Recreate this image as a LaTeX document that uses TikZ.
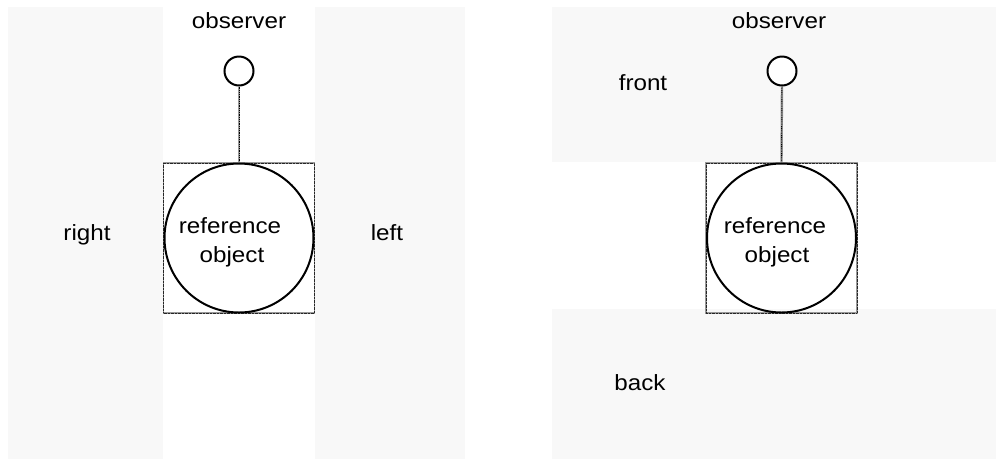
\documentclass[tikz,border=0pt]{standalone}
\usepackage{fontspec}
\setmainfont{Liberation Sans}[FakeStretch=1.1]
\definecolor{bggray}{RGB}{248,248,248}
\begin{document}
\begin{tikzpicture}[x=1pt,y=-1pt,
  txt/.style={font=\fontsize{22}{29}\selectfont, inner sep=0pt, anchor=base},
  obscirc/.style={circle, draw=black, line width=2pt, fill=white, minimum size=29pt, inner sep=0pt},
  refcirc/.style={circle, draw=black, line width=2pt, minimum size=149pt, inner sep=0pt},
  hatchbox/.style={draw=black!40, line width=1.8pt, minimum width=151pt, minimum height=150pt, inner sep=0pt,
    postaction={draw=black!85, line width=0.8pt, dash pattern=on 0.7pt off 0.7pt}},
  hatchline/.style={draw=black!40, line width=2.4pt,
    postaction={draw=black, line width=1pt, dash pattern=on 0.9pt off 0.9pt}}
]
\useasboundingbox (0,0) rectangle (997,459);
\fill[white] (0,0) rectangle (997,459);
% left panel background
\fill[bggray] (8,7) rectangle (163,459);
\fill[bggray] (315,7) rectangle (465,459);
% right panel background
\fill[bggray] (552,7) rectangle (996,162);
\fill[bggray] (552,309) rectangle (996,459);

% left panel
\node[hatchbox] (boxL) at (239,238) {};
\node[refcirc] (refL) at (239,238) {};
\node[obscirc] (obsL) at (239,71) {};
\draw[hatchline] (obsL.south) -- (boxL.north);
\node[txt] (obsTL) at (239,28) {observer};
\node[txt] (rightT) at (87,240) {right};
\node[txt] (leftT) at (387,240) {left};
\node[txt] (refTL1) at (230,233) {reference};
\node[txt] (refTL2) at (232,262) {object};

% right panel
\node[hatchbox] (boxR) at (781.5,238) {};
\node[refcirc] (refR) at (781.5,238) {};
\node[obscirc] (obsR) at (782,71) {};
\draw[hatchline] (obsR.south) -- (boxR.north);
\node[txt] (obsTR) at (779,28) {observer};
\node[txt] (frontT) at (643,90) {front};
\node[txt] (backT) at (640,390) {back};
\node[txt] (refTR1) at (775,233) {reference};
\node[txt] (refTR2) at (777,262) {object};
\end{tikzpicture}
\end{document}
